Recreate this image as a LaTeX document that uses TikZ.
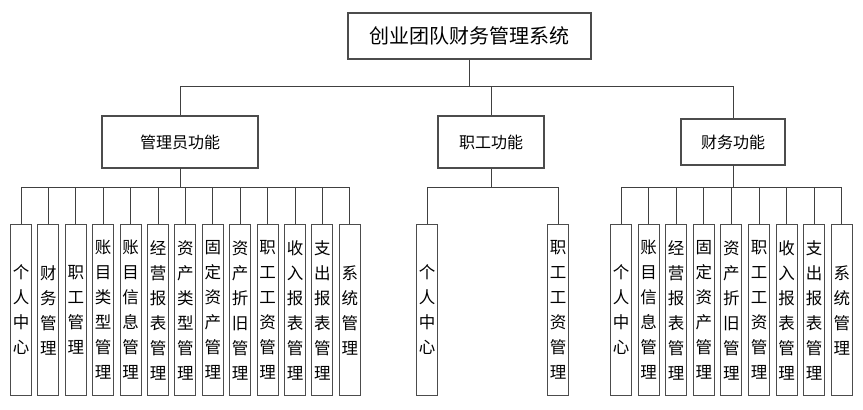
\documentclass[tikz,border=0pt]{standalone}
\usepackage{fontspec}
\setmainfont{Noto Sans CJK SC}
\begin{document}
\begin{tikzpicture}[x=1pt,y=-1pt,
  box/.style={draw=black!70, line width=1.1pt, fill=white, inner sep=0pt, align=center},
  rootbox/.style={box, minimum width=243pt, minimum height=46pt, font=\fontsize{20}{24}\selectfont},
  midbox/.style={box, minimum height=52pt, font=\fontsize{16}{20}\selectfont},
  leafbox/.style={box, minimum width=21pt, minimum height=171pt, anchor=north, font=\fontsize{16.5}{25}\selectfont},
  conn/.style={draw=black!75, line width=0.9pt}]
\useasboundingbox (0,0) rectangle (863,410);
\fill[white] (0,0) rectangle (863,410);

\node[rootbox] (root) at (469.5,36) {创业团队财务管理系统};
\node[midbox, minimum width=156pt] (admin) at (180,142) {管理员功能};
\node[midbox, minimum width=106pt] (staff) at (491,142) {职工功能};
\node[midbox, minimum width=104pt, minimum height=46pt] (fin) at (733,142) {财务功能};

\draw[conn] (root.south) -- ++(0,27) -| (admin.north);
\draw[conn] (root.south) -- ++(0,27) -| (staff.north);
\draw[conn] (root.south) -- ++(0,27) -| (fin.north);

% admin leaves
\foreach \t [count=\i from 0] in {个\\人\\中\\心, 财\\务\\管\\理, 职\\工\\管\\理, 账\\目\\类\\型\\管\\理, 账\\目\\信\\息\\管\\理, 经\\营\\报\\表\\管\\理, 资\\产\\类\\型\\管\\理, 固\\定\\资\\产\\管\\理, 资\\产\\折\\旧\\管\\理, 职\\工\\工\\资\\管\\理, 收\\入\\报\\表\\管\\理, 支\\出\\报\\表\\管\\理, 系\\统\\管\\理}{
  \node[leafbox] (a\i) at ({21+\i*27.4},224) {\t};
  \draw[conn] (admin.south) -- ++(0,19) -| (a\i.north);
}

% staff leaves
\node[leafbox] (s0) at (427,224) {个\\人\\中\\心};
\node[leafbox] (s1) at (558,224) {职\\工\\工\\资\\管\\理};
\draw[conn] (staff.south) -- ++(0,19) -| (s0.north);
\draw[conn] (staff.south) -- ++(0,19) -| (s1.north);

% finance leaves
\foreach \t [count=\i from 0] in {个\\人\\中\\心, 账\\目\\信\\息\\管\\理, 经\\营\\报\\表\\管\\理, 固\\定\\资\\产\\管\\理, 资\\产\\折\\旧\\管\\理, 职\\工\\工\\资\\管\\理, 收\\入\\报\\表\\管\\理, 支\\出\\报\\表\\管\\理, 系\\统\\管\\理}{
  \node[leafbox] (f\i) at ({621+\i*27.6},224) {\t};
  \draw[conn] (fin.south) -- ++(0,22) -| (f\i.north);
}
\end{tikzpicture}
\end{document}
